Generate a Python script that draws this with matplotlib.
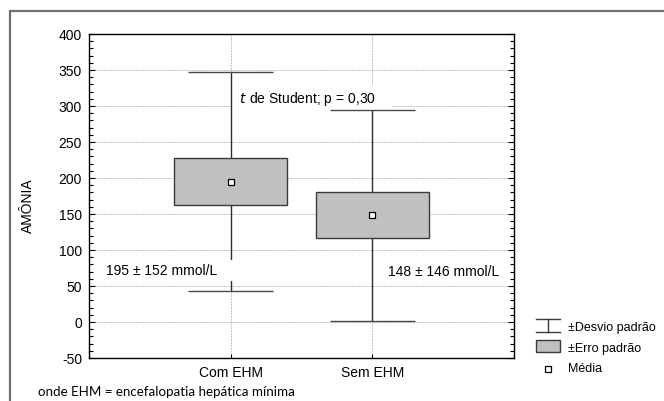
import matplotlib.pyplot as plt
from matplotlib.patches import Rectangle
from matplotlib.lines import Line2D
from matplotlib.ticker import MultipleLocator

# Dados: média, erro padrão e desvio padrão da amônia por grupo
grupos = ['Com EHM', 'Sem EHM']
medias = [195, 148]
erro_padrao = [33, 32]
desvio_padrao = [152, 146]
rotulos = ['195 ± 152 mmol/L', '148 ± 146 mmol/L']

W, H = 664, 401
plt.rcParams['font.family'] = ['Liberation Sans', 'DejaVu Sans']
plt.rcParams['axes.unicode_minus'] = False
fig = plt.figure(figsize=(W / 100, H / 100), dpi=100)

def fx(px):
    return px / W

def fy(py):
    return 1 - py / H

# Cadre extérieur gris (coupé à droite et en bas)
fig.patches.append(Rectangle((fx(10), fy(420)), fx(700), fy(11) - fy(420),
                             transform=fig.transFigure, fill=False,
                             ec='#6e6e6e', lw=1.6))

ax = fig.add_axes([fx(89), fy(358), fx(514 - 89), fy(34) - fy(358)])
pos = [1, 2]

for p, m, se, sd in zip(pos, medias, erro_padrao, desvio_padrao):
    # moustaches (desvio padrão)
    ax.vlines(p, m - sd, m + sd, color='#2e2e2e', lw=1, zorder=3.5)
    ax.hlines([m - sd, m + sd], p - 0.3, p + 0.3, color='#4a4a4a', lw=1, zorder=3.5)
# caixas (erro padrão)
ax.bar(pos, [2 * se for se in erro_padrao],
       bottom=[m - se for m, se in zip(medias, erro_padrao)],
       width=0.8, color='#c0c0c0', edgecolor='#3a3a3a', lw=1, zorder=4)
# médias
ax.plot(pos, medias, ls='none', marker='s', ms=5, mfc='white', mec='black',
        mew=0.9, zorder=5)

ax.set_xlim(0, 3)
ax.set_ylim(-50, 400)
ax.set_xticks(pos)
ax.set_xticklabels(grupos, fontsize=10)
ax.yaxis.set_major_locator(MultipleLocator(50))
ax.yaxis.set_minor_locator(MultipleLocator(10))
ax.tick_params(axis='y', which='both', direction='in', right=True, labelsize=10,
               length=3, width=0.8, pad=5)
ax.tick_params(axis='y', which='major', length=4)
ax.tick_params(axis='x', direction='in', length=3, width=0.8, pad=6)
ax.grid(True, which='major', color='#c0c0c0', ls=(0, (2, 1)), lw=0.7)
ax.set_axisbelow(True)
for s in ax.spines.values():
    s.set_linewidth(1)
    s.set_color('black')
ax.set_ylabel('AMÔNIA', fontsize=10)
ax.yaxis.set_label_coords(-0.127, 0.47)

# textos com fundo branco
ax.text(1.04, 310, r' $t$ de Student; p = 0,30    ', fontsize=10, va='center', ha='left',
        zorder=3, bbox=dict(fc='white', ec='none', pad=3))
ax.text(0.12, 71, rotulos[0] + '    ', fontsize=10, va='center', ha='left', zorder=3.8,
        bbox=dict(fc='white', ec='none', pad=2.5))
ax.text(2.11, 69, rotulos[1], fontsize=10, va='center', ha='left', zorder=3)

# legenda manual
fig.lines.append(Line2D([fx(536), fx(560)], [fy(319), fy(319)], transform=fig.transFigure,
                        color='#3a3a3a', lw=1))
fig.lines.append(Line2D([fx(536), fx(560)], [fy(332), fy(332)], transform=fig.transFigure,
                        color='#3a3a3a', lw=1))
fig.lines.append(Line2D([fx(548), fx(548)], [fy(319), fy(332)], transform=fig.transFigure,
                        color='#3a3a3a', lw=1))
fig.patches.append(Rectangle((fx(536), fy(352)), fx(24), fy(340) - fy(352),
                             transform=fig.transFigure, fc='#c0c0c0', ec='#3a3a3a', lw=1))
fig.lines.append(Line2D([fx(548)], [fy(369)], transform=fig.transFigure, ls='none',
                        marker='s', ms=5, mfc='white', mec='black', mew=0.9))
for texto, yy in zip(['±Desvio padrão', '±Erro padrão', 'Média'], [328, 349, 369]):
    fig.text(fx(568), fy(yy), texto, fontsize=9, va='center', ha='left')

fig.text(fx(38), fy(392), 'onde EHM = encefalopatia hepática mínima',
         fontsize=9.6, va='center', ha='left', family=['Lato', 'DejaVu Sans'])

fig.savefig('out.png', dpi=100)
